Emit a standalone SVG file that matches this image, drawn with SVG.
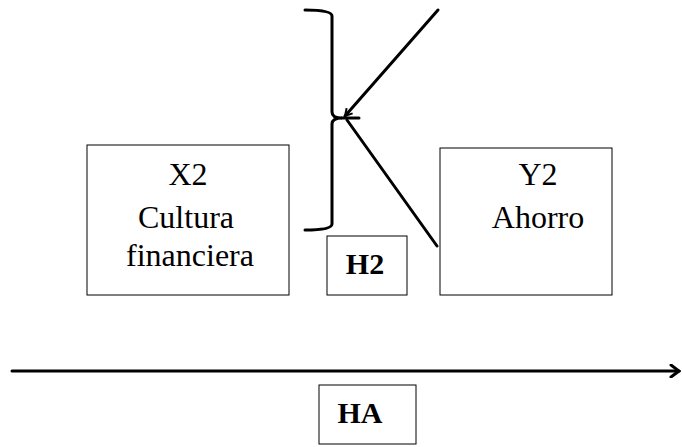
<svg xmlns="http://www.w3.org/2000/svg" width="682" height="447" viewBox="0 0 682 447">
<style>
.box{fill:#fff;stroke:#000;stroke-width:1}
.t{font-family:"Liberation Serif","Times New Roman",serif;font-size:32px;text-anchor:middle;fill:#000}
.b{font-family:"Liberation Serif","Times New Roman",serif;font-weight:bold;font-size:30px;text-anchor:middle;fill:#000}
.ln{fill:none;stroke:#000;stroke-width:3;stroke-linecap:round}
</style>
<defs>
<marker id="open" markerWidth="12" markerHeight="14" refX="10" refY="7" orient="auto" markerUnits="userSpaceOnUse">
<path d="M2,1 L10,7 L2,13" fill="none" stroke="#000" stroke-width="3" stroke-linecap="round"/>
</marker>
<marker id="sm" markerWidth="10" markerHeight="10" refX="8" refY="5" orient="auto" markerUnits="userSpaceOnUse">
<path d="M1,1 L8,5 L1,9" fill="none" stroke="#000" stroke-width="2"/>
</marker>
</defs>
<g id="x2">
<rect class="box" x="87" y="145" width="202" height="150"/>
<text class="t" x="188" y="185">X2</text>
<text class="t" x="186" y="228">Cultura</text>
<text class="t" x="190" y="266">financiera</text>
</g>
<g id="y2">
<rect class="box" x="440" y="148" width="172" height="147"/>
<text class="t" x="538" y="185">Y2</text>
<text class="t" x="538" y="228">Ahorro</text>
</g>
<g id="h2">
<rect class="box" x="327" y="236" width="80" height="59"/>
<text class="b" x="365" y="274">H2</text>
</g>
<g id="ha">
<rect class="box" x="319" y="385" width="97" height="59"/>
<text class="b" x="360" y="423">HA</text>
</g>
<g id="connectors">
<path class="ln" d="M305,10 Q332,10 332,16 L332,112 Q332,118 342,118 Q332,118 332,124 L332,224 Q332,230 305,230"/>
<line class="ln" x1="342" y1="118" x2="359" y2="118"/>
<line class="ln" x1="438" y1="10" x2="345" y2="116" marker-end="url(#sm)"/>
<line class="ln" x1="347" y1="120" x2="437" y2="246"/>
<line class="ln" x1="12" y1="371" x2="679" y2="371" marker-end="url(#open)"/>
</g>
</svg>
